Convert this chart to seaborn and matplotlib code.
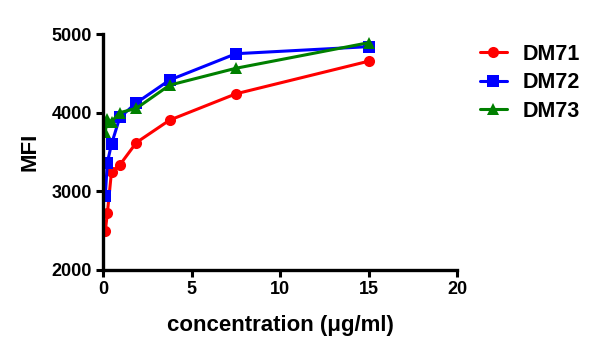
import pandas as pd
import matplotlib
matplotlib.use("Agg")
import matplotlib.pyplot as plt
import seaborn as sns

sns.set_theme(style="ticks")
plt.rcParams.update({
    'font.family': ['Liberation Sans', 'DejaVu Sans'],
    'font.weight': 'bold',
    'axes.labelweight': 'bold',
    'text.color': 'black',
    'axes.labelcolor': 'black',
    'xtick.color': 'black',
    'ytick.color': 'black',
})

conc = [0.117, 0.234, 0.469, 0.9375, 1.875, 3.75, 7.5, 15]
dm71 = [2490, 2720, 3250, 3335, 3620, 3905, 4240, 4655]
dm72 = [2940, 3365, 3600, 3940, 4125, 4415, 4750, 4840]
dm73 = [3760, 3915, 3885, 4000, 4055, 4350, 4565, 4890]
names = ["DM71", "DM72", "DM73"]

df = pd.DataFrame({
    'conc': conc * 3,
    'MFI': dm71 + dm72 + dm73,
    'sample': [n for n in names for _ in conc],
})

fig = plt.figure(figsize=(6.0, 3.51), dpi=100)
ax = fig.add_axes([0.172, 0.231, 0.59, 0.672])

sns.lineplot(
    data=df, x='conc', y='MFI', hue='sample', style='sample',
    palette={'DM71': '#ff0000', 'DM72': '#0000ff', 'DM73': '#008000'},
    markers={'DM71': 'o', 'DM72': 's', 'DM73': '^'},
    dashes=False, linewidth=2.2, markersize=8, markeredgewidth=0,
    ax=ax,
)

ax.set_xlim(0, 20)
ax.set_ylim(2000, 5000)
ax.set_xticks([0, 5, 10, 15, 20])
ax.set_yticks([2000, 3000, 4000, 5000])
ax.set_xlabel("concentration (\u03bcg/ml)", fontsize=16, fontweight='bold', labelpad=12)
ax.set_ylabel("MFI", fontsize=16, fontweight='bold', labelpad=8)
ax.tick_params(axis='both', width=2.2, length=5, labelsize=13, direction='out', pad=3)
for lab in ax.get_xticklabels() + ax.get_yticklabels():
    lab.set_fontweight('bold')
sns.despine(ax=ax)
for s in ['left', 'bottom']:
    ax.spines[s].set_linewidth(2.4)
    ax.spines[s].set_color('black')

leg = ax.legend(loc='upper left', bbox_to_anchor=(0.80, 0.875), bbox_transform=fig.transFigure,
                frameon=False, fontsize=15.5, handlelength=1.25, handletextpad=0.75,
                labelspacing=0.35, borderpad=0, borderaxespad=0, title=None)
for t in leg.get_texts():
    t.set_fontweight('bold')
    t.set_color('black')

fig.savefig("out.png", dpi=100)
